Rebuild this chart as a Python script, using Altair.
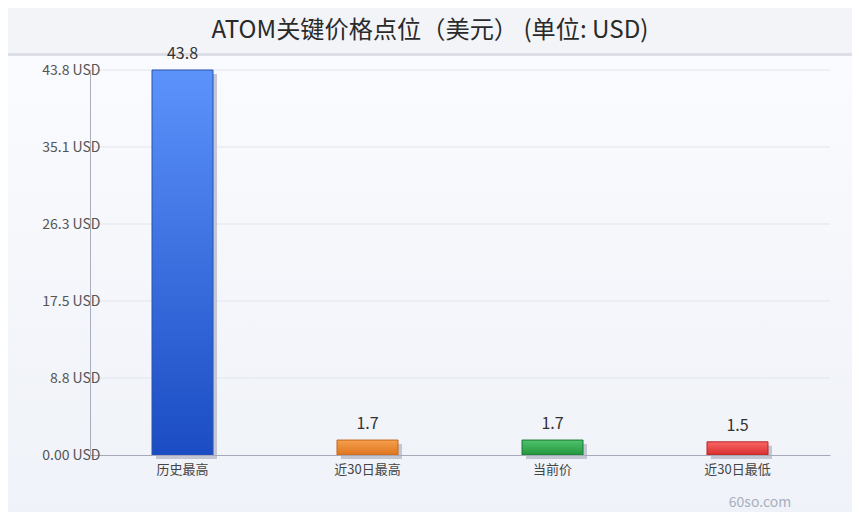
import altair as alt
import pandas as pd

# ---- data ----
categories = ["历史最高", "近30日最高", "当前价", "近30日最低"]
values = [43.8, 1.7, 1.7, 1.5]
value_labels = ["43.8", "1.7", "1.7", "1.5"]
y_ticks = [0, 8.76, 17.52, 26.28, 35.04, 43.8]
y_tick_labels = ["0.00 USD", "8.8 USD", "17.5 USD", "26.3 USD", "35.1 USD", "43.8 USD"]
title_text = "ATOM关键价格点位（美元） (单位: USD)"
watermark = "60so.com"

# bar colours: (top, bottom, stroke)
bar_colors = [
    ("#5c93fb", "#1b4cc3", "#2a52ae"),
    ("#f6a04c", "#de7420", "#c4661a"),
    ("#4fc36c", "#23953f", "#1d7635"),
    ("#fb6464", "#d62f2f", "#b32626"),
]

df = pd.DataFrame({"cat": categories, "val": values, "lbl": value_labels})
ticks_df = pd.DataFrame({"val": y_ticks[1:]})

FONT = "Noto Sans CJK SC"
W, H = 740, 385
PAD = {"left": 82, "top": 62, "right": 22, "bottom": 57}

label_expr = ""
for t, l in zip(y_ticks, y_tick_labels):
    label_expr += f"abs(datum.value - {t}) < 0.01 ? '{l}' : "
label_expr += "''"

x_enc = alt.X(
    "cat:N",
    sort=categories,
    title=None,
    scale=alt.Scale(paddingInner=0, paddingOuter=0),
    axis=alt.Axis(
        labelAngle=0, labelFont=FONT, labelFontSize=13, labelColor="#444444",
        labelPadding=8, ticks=False, domainColor="#a4aab8", domainWidth=1,
        grid=False, zindex=1,
    ),
)
y_scale = alt.Scale(domain=[0, 43.8], nice=False, zero=True)
y_enc = alt.Y(
    "val:Q",
    title=None,
    scale=y_scale,
    axis=alt.Axis(
        values=y_ticks, labelExpr=label_expr, labelFont=FONT, labelFontSize=14,
        labelColor="#555555", labelPadding=-10, ticks=False,
        domainColor="#a8aebb", grid=False, zindex=1,
    ),
)

one = alt.Data(values=[{}])

body_bg = alt.Chart(one).mark_rect(
    fill=alt.Gradient(
        gradient="linear",
        stops=[alt.GradientStop(offset=0, color="#fafbfe"),
               alt.GradientStop(offset=1, color="#eff2f8")],
        x1=0, x2=0, y1=0, y2=1,
    )
).encode(x=alt.value(-PAD["left"]), x2=alt.value(W + PAD["right"]),
         y=alt.value(-15), y2=alt.value(H + PAD["bottom"]))

header_bg = alt.Chart(one).mark_rect(fill="#f3f4f8").encode(
    x=alt.value(-PAD["left"]), x2=alt.value(W + PAD["right"]),
    y=alt.value(-PAD["top"]), y2=alt.value(-17))

sep = alt.Chart(one).mark_rect(fill="#dcdfe7").encode(
    x=alt.value(-PAD["left"]), x2=alt.value(W + PAD["right"]),
    y=alt.value(-17), y2=alt.value(-14))

grid = alt.Chart(ticks_df).mark_rule(color="#e2e5ee", strokeWidth=1).encode(
    y=y_enc, x=alt.value(0), x2=alt.value(W))

title = alt.Chart(pd.DataFrame({"t": [title_text]})).mark_text(
    font=FONT, fontSize=24.2, color="#2a2a2a", baseline="middle", align="center"
).encode(text="t:N", x=alt.value(340), y=alt.value(-39))

wm = alt.Chart(pd.DataFrame({"t": [watermark]})).mark_text(
    font=FONT, fontSize=14, color="#a9afbe", baseline="middle", align="center"
).encode(text="t:N", x=alt.value(670), y=alt.value(433))

base = alt.Chart(df)

shadow = base.mark_bar(size=61, color="#c3c7d3", xOffset=4, yOffset=4).encode(
    x=x_enc, y=y_enc)

bar_layers = []
for cat, (top, bot, stroke) in zip(categories, bar_colors):
    bar_layers.append(
        base.transform_filter(alt.datum.cat == cat).mark_bar(
            size=61,
            fill=alt.Gradient(
                gradient="linear",
                stops=[alt.GradientStop(offset=0, color=top),
                       alt.GradientStop(offset=1, color=bot)],
                x1=0, x2=0, y1=0, y2=1,
            ),
            stroke=stroke, strokeWidth=1,
        ).encode(x=x_enc, y=y_enc)
    )

text = base.mark_text(
    font=FONT, fontSize=16, color="#333333", baseline="bottom", dy=-8
).encode(x=x_enc, y=y_enc, text="lbl:N")

chart = alt.layer(
    body_bg, header_bg, sep, grid, title, wm, shadow, *bar_layers, text
).properties(
    width=W, height=H,
    padding=PAD,
    autosize=alt.AutoSizeParams(type="none"),
    background="#f3f4f8",
).configure_view(stroke=None)

chart.save("out.html", embed_options={"renderer": "svg", "actions": False})
